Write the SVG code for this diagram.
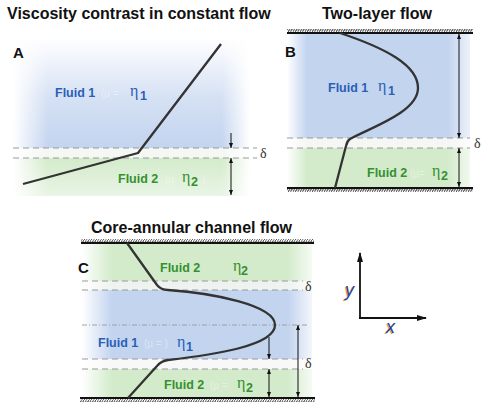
<svg xmlns="http://www.w3.org/2000/svg" width="490" height="415" viewBox="0 0 490 415">
<style>
.title{font-family:"Liberation Sans",Arial,sans-serif;font-weight:bold;font-size:16px;fill:#111}
.plab{font-family:"Liberation Sans",Arial,sans-serif;font-weight:bold;font-size:15px;fill:#111}
.f1{font-family:"Liberation Sans",Arial,sans-serif;font-weight:bold;font-size:12.5px;fill:#2b5fb5}
.f2{font-family:"Liberation Sans",Arial,sans-serif;font-weight:bold;font-size:12.5px;fill:#35902f}
.eta{font-family:"Liberation Serif","Times New Roman",serif;font-size:16px}
.sub{font-family:"Liberation Sans",Arial,sans-serif;font-size:12.5px;font-weight:bold}
.ghost{font-family:"Liberation Sans",Arial,sans-serif;font-size:10px;fill:#ffffff;opacity:0.4}
.delta{font-family:"Liberation Serif","Times New Roman",serif;font-size:14px;fill:#333}
.dash{stroke:#9a9a9a;stroke-width:1.2;stroke-dasharray:6 4;fill:none}
.dashdot{stroke:#999;stroke-width:0.9;stroke-dasharray:5 2 1 2;fill:none}
.curve{stroke:#333;stroke-width:2.3;fill:none;stroke-linejoin:round}
.meas{stroke:#111;stroke-width:1;fill:none}
.axis{stroke:#111;stroke-width:1.8;fill:none}
.wall{stroke:#111;stroke-width:2.2}
.axlab{font-family:"Liberation Sans",Arial,sans-serif;font-style:italic;font-size:18px}
</style>
<defs>
<marker id="ah" viewBox="0 0 10 8" refX="10" refY="4" markerWidth="5" markerHeight="4" markerUnits="userSpaceOnUse" orient="auto-start-reverse"><path d="M0,0 L10,4 L0,8 z" fill="#111"/></marker>
<marker id="axh" viewBox="0 0 10 6" refX="9" refY="3" markerWidth="10" markerHeight="6" markerUnits="userSpaceOnUse" orient="auto"><path d="M0,0 L10,3 L0,6 z" fill="#111"/></marker>
<pattern id="hatch" patternUnits="userSpaceOnUse" width="2.4" height="4"><path d="M-0.6,4.6 L3,-0.6" stroke="#222" stroke-width="0.9"/></pattern>
<linearGradient id="blueV" x1="0" y1="0" x2="0" y2="1"><stop offset="0" stop-color="#c3d4ef" stop-opacity="0"/><stop offset="0.55" stop-color="#c3d4ef" stop-opacity="0.7"/><stop offset="1" stop-color="#c3d4ef"/></linearGradient>
<linearGradient id="greenV" x1="0" y1="0" x2="0" y2="1"><stop offset="0" stop-color="#d3ebcb"/><stop offset="1" stop-color="#d3ebcb" stop-opacity="0.5"/></linearGradient>
<linearGradient id="fadeL" x1="0" y1="0" x2="1" y2="0"><stop offset="0" stop-color="#fff"/><stop offset="1" stop-color="#fff" stop-opacity="0"/></linearGradient>
<linearGradient id="fadeR" x1="0" y1="0" x2="1" y2="0"><stop offset="0" stop-color="#fff" stop-opacity="0"/><stop offset="1" stop-color="#fff"/></linearGradient>
</defs>
<rect width="490" height="415" fill="#fff"/>

<!-- Titles -->
<text class="title" x="7" y="19">Viscosity contrast in constant flow</text>
<text class="title" x="322" y="19">Two-layer flow</text>
<text class="title" x="91" y="233">Core-annular channel flow</text>

<!-- Panel A -->
<g id="panelA">
<rect x="13" y="38" width="237" height="110" fill="url(#blueV)"/>
<rect x="13" y="148" width="237" height="10" fill="#f4f7f4"/>
<rect x="13" y="158" width="237" height="38" fill="url(#greenV)"/>
<rect x="13" y="38" width="35" height="158" fill="url(#fadeL)"/>
<rect x="222" y="38" width="28" height="158" fill="url(#fadeR)"/>
<line class="dash" x1="13" y1="148" x2="257" y2="148"/>
<line class="dash" x1="13" y1="158" x2="257" y2="158"/>
<polyline class="curve" points="23,184 138,153 221,44"/>
<text class="plab" x="13" y="58">A</text>
<text class="f1" x="55" y="97">Fluid 1</text>
<text class="ghost" x="101" y="97">(μ =</text>
<text class="eta" x="130" y="96" fill="#2b5fb5">η</text><text class="sub" x="140" y="100" fill="#2b5fb5">1</text>
<text class="f2" x="118" y="183">Fluid 2</text>
<text class="ghost" x="165" y="183">(μ</text>
<text class="eta" x="182" y="182" fill="#35902f">η</text><text class="sub" x="191" y="186" fill="#35902f">2</text>
<text class="ghost" x="202" y="183">)</text>
<text class="delta" x="260" y="158">δ</text>
</g>

<!-- Panel B -->
<g id="panelB">
<rect x="287" y="33" width="183" height="105" fill="#c3d4ef"/>
<rect x="287" y="138" width="183" height="10" fill="#f4f7f4"/>
<rect x="287" y="148" width="183" height="40" fill="#d3ebcb"/>
<rect x="287" y="33" width="20" height="155" fill="url(#fadeL)"/>
<rect x="448" y="33" width="22" height="155" fill="url(#fadeR)" opacity="0.7"/>
<rect x="287" y="29" width="186" height="4" fill="url(#hatch)"/>
<line class="wall" x1="287" y1="33" x2="473" y2="33"/>
<rect x="287" y="188" width="186" height="4" fill="url(#hatch)"/>
<line class="wall" x1="287" y1="188" x2="473" y2="188"/>
<line class="dash" x1="287" y1="138" x2="470" y2="138"/>
<line class="dash" x1="287" y1="148" x2="470" y2="148"/>
<path class="curve" d="M340,33 C385,48 418,65 418,88 C418,112 372,127 350,139 Q347,141 346,146 L335,188"/>
<text class="plab" x="285" y="57">B</text>
<text class="f1" x="328" y="92">Fluid 1</text>
<text class="eta" x="378" y="91" fill="#2b5fb5">η</text><text class="sub" x="388" y="95" fill="#2b5fb5">1</text>
<text class="f2" x="367" y="177">Fluid 2</text>
<text class="ghost" x="410" y="177">(μ=</text>
<text class="eta" x="432" y="176" fill="#35902f">η</text><text class="sub" x="441" y="180" fill="#35902f">2</text>
<text class="delta" x="474" y="148">δ</text>
</g>

<!-- Panel C -->
<g id="panelC">
<rect x="82" y="243" width="230" height="38" fill="#d3ebcb"/>
<rect x="82" y="281" width="230" height="9" fill="#eef3f0"/>
<rect x="82" y="290" width="230" height="69" fill="#c3d4ef"/>
<rect x="82" y="359" width="230" height="10" fill="#f7f8f7"/>
<rect x="82" y="369" width="230" height="29" fill="#d3ebcb"/>
<rect x="82" y="243" width="30" height="155" fill="url(#fadeL)"/>
<rect x="288" y="243" width="24" height="155" fill="url(#fadeR)" opacity="0.8"/>
<rect x="81" y="239" width="233" height="4" fill="url(#hatch)"/>
<line class="wall" x1="81" y1="243" x2="314" y2="243"/>
<rect x="80" y="398" width="235" height="4" fill="url(#hatch)"/>
<line class="wall" x1="80" y1="398" x2="315" y2="398"/>
<line class="dash" x1="82" y1="281" x2="303" y2="281"/>
<line class="dash" x1="82" y1="290" x2="303" y2="290"/>
<line class="dashdot" x1="82" y1="325" x2="309" y2="325"/>
<line class="dash" x1="82" y1="359" x2="303" y2="359"/>
<line class="dash" x1="82" y1="369" x2="303" y2="369"/>
<path class="curve" d="M127,243 L157,285 Q161,290 168,290 C212,293 275,305 275,325 C275,346 212,355 168,360 Q161,361 157,366 L128,398"/>
<text class="plab" x="78" y="273">C</text>
<text class="f2" x="160" y="272">Fluid 2</text>
<text class="eta" x="233" y="271" fill="#35902f">η</text><text class="sub" x="241" y="275" fill="#35902f">2</text>
<text class="f1" x="98" y="347">Fluid 1</text>
<text class="ghost" x="144" y="347">(μ = )</text>
<text class="eta" x="177" y="347" fill="#2b5fb5">η</text><text class="sub" x="186" y="351" fill="#2b5fb5">1</text>
<text class="f2" x="164" y="389">Fluid 2</text>
<text class="ghost" x="210" y="389">(μ =</text>
<text class="eta" x="237" y="388" fill="#35902f">η</text><text class="sub" x="246" y="392" fill="#35902f">2</text>
<text class="delta" x="305" y="291">δ</text>
<text class="delta" x="305" y="368">δ</text>
</g>

<!-- Measurement connectors -->
<g id="connectors">
<line class="meas" x1="231" y1="133" x2="231" y2="148" marker-end="url(#ah)"/>
<line class="meas" x1="231" y1="158" x2="231" y2="195" marker-start="url(#ah)" marker-end="url(#ah)"/>
<line class="meas" x1="459" y1="34" x2="459" y2="138" marker-start="url(#ah)" marker-end="url(#ah)"/>
<line class="meas" x1="459" y1="148" x2="459" y2="187" marker-start="url(#ah)" marker-end="url(#ah)"/>
<line class="meas" x1="269" y1="337" x2="269" y2="359" marker-end="url(#ah)"/>
<line class="meas" x1="269" y1="369" x2="269" y2="397" marker-start="url(#ah)" marker-end="url(#ah)"/>
<line class="meas" x1="298" y1="325" x2="298" y2="397" marker-start="url(#ah)" marker-end="url(#ah)"/>
</g>

<!-- Axes -->
<g id="axes">
<line class="axis" x1="360" y1="318" x2="360" y2="253" marker-end="url(#axh)"/>
<line class="axis" x1="359" y1="318" x2="426" y2="318" marker-end="url(#axh)"/>
<text class="axlab" x="344" y="297" fill="#e8a030">y</text>
<text class="axlab" x="345" y="296" fill="#1f3f9f">y</text>
<text class="axlab" x="385" y="334" fill="#e8a030">x</text>
<text class="axlab" x="386" y="333" fill="#1f3f9f">x</text>
</g>
</svg>
